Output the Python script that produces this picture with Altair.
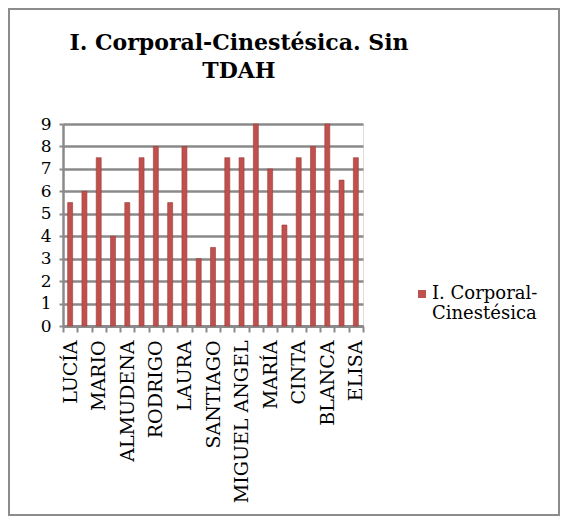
import json
import altair as alt
import pandas as pd

# ---- data ----
shown_labels = ["LUCÍA", "MARIO", "ALMUDENA", "RODRIGO", "LAURA", "SANTIAGO",
                "MIGUEL ANGEL", "MARÍA", "CINTA", "BLANCA", "ELISA"]
values = [5.5, 6, 7.5, 4, 5.5, 7.5, 8, 5.5, 8, 3, 3.5, 7.5, 7.5, 9, 7, 4.5,
          7.5, 8, 9, 6.5, 7.5]
series_name = "I. Corporal-Cinestésica"
title_lines = ["I. Corporal-Cinestésica. Sin", "TDAH"]
y_ticks = [0, 1, 2, 3, 4, 5, 6, 7, 8, 9]

df = pd.DataFrame({
    "pos": list(range(len(values))),
    "valor": values,
    "serie": [series_name] * len(values),
})

labels_js = json.dumps(shown_labels, ensure_ascii=False)
label_expr = f"datum.value % 2 == 0 ? {labels_js}[datum.value / 2] : ''"

FONT = "DejaVu Serif"
GRID = "#8a8a8a"

bars = alt.Chart(df).mark_bar(
    size=5, color="#C0504D", stroke="#9a3b38", strokeWidth=0.6
).encode(
    x=alt.X("pos:O", title=None, scale=alt.Scale(paddingInner=0, paddingOuter=0),
            axis=alt.Axis(labelExpr=label_expr, labelAngle=270, labelAlign="right",
                          labelBaseline="middle", labelFont=FONT, labelFontSize=19,
                          labelColor="black", tickBand="extent", tickSize=6,
                          tickColor=GRID, tickWidth=2, domainColor=GRID,
                          domainWidth=3, labelPadding=8, grid=False)),
    y=alt.Y("valor:Q", title=None, scale=alt.Scale(domain=[0, 9], nice=False),
            axis=alt.Axis(values=y_ticks, labelFont=FONT, labelFontSize=17,
                          labelColor="black", tickSize=4, tickColor=GRID,
                          tickWidth=2, domainColor=GRID, domainWidth=2.5,
                          labelPadding=8, grid=True, gridColor=GRID,
                          gridWidth=2.5)),
    color=alt.Color("serie:N", title=None,
                    scale=alt.Scale(range=["#C0504D"]),
                    legend=alt.Legend(orient="none", legendX=350, legendY=161,
                                      symbolType="square", symbolSize=64,
                                      symbolStrokeWidth=0, labelFont=FONT,
                                      labelFontSize=18, labelColor="black",
                                      labelOffset=1,
                                      labelExpr="[slice(datum.label, 0, indexof(datum.label, '-') + 1), slice(datum.label, indexof(datum.label, '-') + 1)]",
                                      labelLimit=200, padding=0)),
)

border = alt.Chart(pd.DataFrame({"a": [0]})).mark_rect(
    filled=False, stroke="#8c8c8c", strokeWidth=2
).encode(
    x=alt.value(-54), x2=alt.value(496), y=alt.value(-115), y2=alt.value(391)
)

title = alt.Chart(pd.DataFrame({"a": [0]})).mark_text(
    font=FONT, fontSize=22, fontWeight="bold", color="black",
    align="center", baseline="alphabetic", lineHeight=28
).encode(
    x=alt.value(176), y=alt.value(-74), text=alt.value(title_lines)
)

chart = alt.layer(border, title, bars).properties(
    width=300, height=202,
    padding={"left": 55, "top": 116, "right": 197, "bottom": 190},
    autosize=alt.AutoSizeParams(type="none"),
).configure_view(stroke=None).configure(background="white")

chart.save("out.html", embed_options={"renderer": "svg", "actions": False})
